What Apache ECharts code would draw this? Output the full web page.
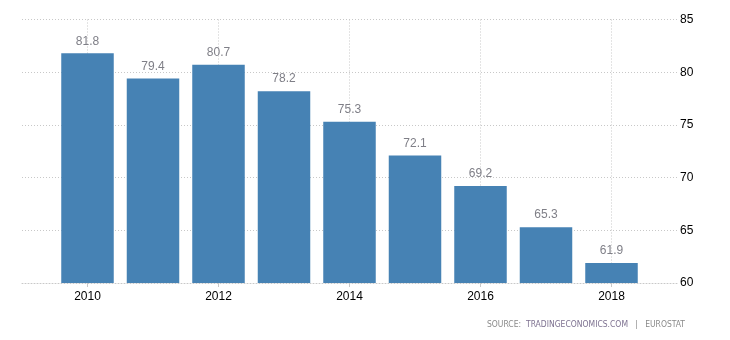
<!DOCTYPE html>
<html><head><meta charset="utf-8">
<script src="https://cdn.jsdelivr.net/npm/echarts@6/dist/echarts.min.js"></script>
<style>html,body{margin:0;padding:0;background:#fff}#c{width:730px;height:340px}</style>
</head><body><div id="c"></div>
<script>
const years = ['2010','2011','2012','2013','2014','2015','2016','2017','2018'];
const values = [81.8, 79.4, 80.7, 78.2, 75.3, 72.1, 69.2, 65.3, 61.9];
const yTicks = [60, 65, 70, 75, 80, 85];
const labeledYears = ['2010','2012','2014','2016','2018'];

// pad with one empty slot each side so the plot spans half a year beyond the bars
const cats = [String(+years[0]-1)].concat(years, [String(+years[years.length-1]+1)]);
const data = [null].concat(values, [null]);
const showIdx = (i) => labeledYears.indexOf(cats[i]) >= 0;

const chart = echarts.init(document.getElementById('c'));
chart.setOption({
  animation: false,
  grid: {left: 22, right: 53, top: 19.5, bottom: 57},
  xAxis: {
    type: 'category', data: cats, boundaryGap: false,
    axisLine: {show: true, lineStyle: {color: '#c8c8c8', type: [1, 2]}},
    axisTick: {show: true, interval: (i) => showIdx(i), length: 4, lineStyle: {color: '#c8c8c8'}},
    axisLabel: {interval: (i) => showIdx(i), color: '#000', fontSize: 12, fontFamily: 'Liberation Sans, Arial', margin: 8},
    splitLine: {show: true, interval: (i) => showIdx(i), lineStyle: {color: '#c8c8c8', type: [1, 2]}}
  },
  yAxis: {
    type: 'value', position: 'right', min: yTicks[0], max: yTicks[yTicks.length-1], interval: 5,
    axisLine: {show: false}, axisTick: {show: false},
    axisLabel: {color: '#000', fontSize: 12, fontFamily: 'Liberation Sans, Arial', margin: 3},
    splitLine: {lineStyle: {color: '#c8c8c8', type: [1, 2]}}
  },
  series: [{
    type: 'bar', data: data, barWidth: 52.5,
    itemStyle: {color: '#4682b4'},
    label: {show: true, position: 'top', color: '#7f7f87', fontSize: 12, fontFamily: 'Liberation Sans, Arial', distance: 6,
      formatter: (p) => p.value == null ? '' : p.value.toFixed(1)}
  }],
  graphic: [{
    type: 'text', left: 487, top: 320,
    style: {
      text: '{a|SOURCE:  }{b|TRADINGECONOMICS.COM}{a|   |   EUROSTAT}',
      rich: {
        a: {fill: '#8a8a8a', fontSize: 8.5, fontFamily: 'DejaVu Sans Condensed, DejaVu Sans'},
        b: {fill: '#7d7190', fontSize: 8.5, fontFamily: 'DejaVu Sans Condensed, DejaVu Sans'}
      }
    }
  }]
});
</script></body></html>
